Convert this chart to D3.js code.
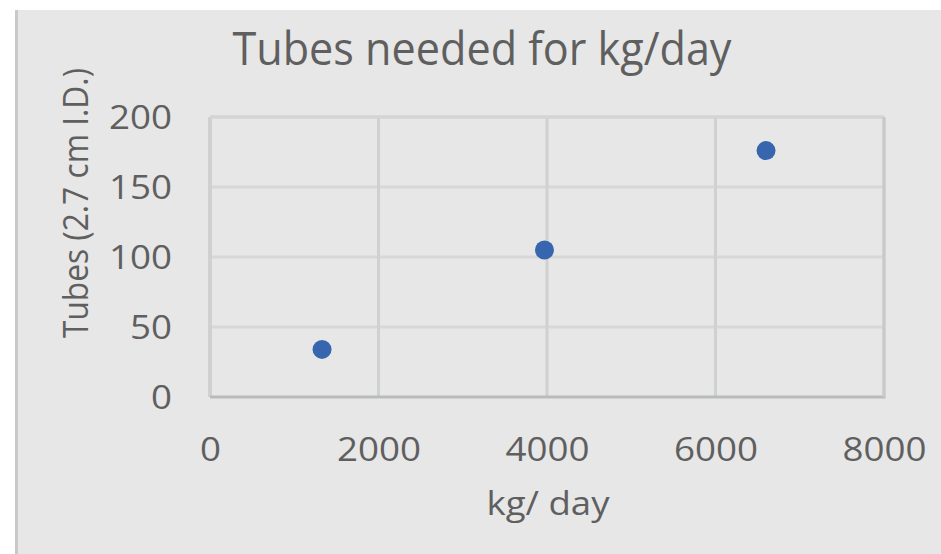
<!DOCTYPE html>
<html>
<head>
<meta charset="UTF-8">
<script src="https://cdn.jsdelivr.net/npm/d3@7"></script>
<style>
  body { margin: 0; background: #ffffff; }
  text { font-family: "Open Sans", sans-serif; fill: #5f5f5f; }
  .axis path, .axis line { display: none; }
</style>
</head>
<body>
<div id="chart"></div>
<script>
  // data
  const kgPerDay = [1330, 3970, 6600];
  const tubes = [34, 105, 176];
  const xTicks = [0, 2000, 4000, 6000, 8000];
  const yTicks = [0, 50, 100, 150, 200];

  let width = 941;
  let height = 554;
  let plot = {left: 210, right: 884, top: 117, bottom: 397};
  let digitW = 21;   // the source font is narrow, so stretch digits to this width

  var svg = d3.select("#chart")
              .append("svg")
              .attr("width", width)
              .attr("height", height);

  // chart area background + left edge
  svg.append("rect").attr("x", 15).attr("y", 10).attr("width", width - 15).attr("height", height - 10)
     .attr("fill", "#e7e7e7");
  svg.append("rect").attr("x", 15).attr("y", 10).attr("width", 3).attr("height", height - 10)
     .attr("fill", "#c9c9c9");

  var x = d3.scaleLinear().domain([0, 8000]).range([plot.left, plot.right]);
  var y = d3.scaleLinear().domain([0, 200]).range([plot.bottom, plot.top]);

  // gridlines
  svg.append("g").selectAll("line").data(yTicks.slice(1)).enter().append("line")
     .attr("x1", plot.left).attr("x2", plot.right)
     .attr("y1", d => y(d)).attr("y2", d => y(d))
     .attr("stroke", "#d6d7d6").attr("stroke-width", 3);
  svg.append("g").selectAll("line").data(xTicks.slice(1)).enter().append("line")
     .attr("x1", d => x(d)).attr("x2", d => x(d))
     .attr("y1", plot.top).attr("y2", plot.bottom)
     .attr("stroke", "#cfd1d0").attr("stroke-width", 3);

  // frame: left/top lighter, bottom/right darker
  svg.append("line").attr("x1", plot.left).attr("x2", plot.left).attr("y1", plot.top).attr("y2", plot.bottom)
     .attr("stroke", "#cfd0cf").attr("stroke-width", 4);
  svg.append("line").attr("x1", plot.left).attr("x2", plot.right).attr("y1", plot.top).attr("y2", plot.top)
     .attr("stroke", "#d3d4d3").attr("stroke-width", 3);
  svg.append("line").attr("x1", plot.left).attr("x2", plot.right + 1.5).attr("y1", plot.bottom).attr("y2", plot.bottom)
     .attr("stroke", "#b9bcbb").attr("stroke-width", 3);
  svg.append("line").attr("x1", plot.right).attr("x2", plot.right).attr("y1", plot.top).attr("y2", plot.bottom)
     .attr("stroke", "#c7cac9").attr("stroke-width", 3);

  // axes (labels only)
  const xAxisG = svg.append("g").attr("class", "axis")
     .attr("transform", "translate(0," + (plot.bottom + 52) + ")")
     .call(d3.axisBottom(x).tickValues(xTicks).tickSize(0).tickFormat(d3.format("d")));
  xAxisG.selectAll("text").attr("y", 0).attr("dy", "0.35em")
     .attr("textLength", d => String(d).length * digitW).attr("lengthAdjust", "spacingAndGlyphs")
     .style("font-size", "33px").style("fill", "#5f5f5f");

  const yAxisG = svg.append("g").attr("class", "axis")
     .attr("transform", "translate(172,0)")
     .call(d3.axisLeft(y).tickValues(yTicks).tickSize(0).tickFormat(d3.format("d")));
  yAxisG.selectAll("text").attr("x", 0).attr("dy", "0.35em")
     .attr("textLength", d => String(d).length * digitW).attr("lengthAdjust", "spacingAndGlyphs")
     .style("font-size", "33px").style("fill", "#5f5f5f");

  // points
  svg.append("g").selectAll("circle")
     .data(kgPerDay.map((d, i) => ({k: d, t: tubes[i]})))
     .enter().append("circle")
     .attr("cx", d => x(d.k))
     .attr("cy", d => y(d.t))
     .attr("r", 9.5)
     .attr("fill", "#3766ae");

  // title
  svg.append("text")
     .attr("x", 482).attr("y", 65)
     .attr("text-anchor", "middle")
     .attr("textLength", 499).attr("lengthAdjust", "spacingAndGlyphs")
     .style("font-size", "45px")
     .text("Tubes needed for kg/day");

  // axis titles
  svg.append("text")
     .attr("x", 548).attr("y", 515)
     .attr("text-anchor", "middle")
     .attr("textLength", 123).attr("lengthAdjust", "spacingAndGlyphs")
     .style("font-size", "33px")
     .text("kg/ day");

  svg.append("text")
     .attr("transform", "translate(88,203) rotate(-90)")
     .attr("text-anchor", "middle")
     .attr("textLength", 270).attr("lengthAdjust", "spacingAndGlyphs")
     .style("font-size", "34px")
     .text("Tubes (2.7 cm I.D.)");
</script>
</body>
</html>
